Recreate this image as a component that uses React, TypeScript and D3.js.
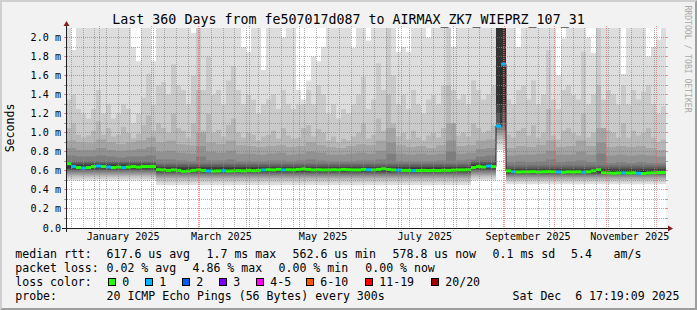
import React from 'react';
import * as d3 from 'd3';

// ---------- time span ----------
const START = Date.UTC(2024, 11, 11, 17, 19, 9);
const END = Date.UTC(2025, 11, 6, 17, 19, 9);
const Y_MAX = 2.1; // ms

// ---------- data (ms), 120 buckets of 3 days ----------
const median = [
  0.675, 0.645, 0.635, 0.63, 0.635, 0.645, 0.65, 0.645, 0.64, 0.635,
  0.64, 0.635, 0.64, 0.645, 0.64, 0.645, 0.645, 0.645, 0.612, 0.61,
  0.605, 0.61, 0.605, 0.595, 0.598, 0.605, 0.61, 0.605, 0.6, 0.598,
  0.6, 0.602, 0.598, 0.6, 0.602, 0.6, 0.605, 0.602, 0.605, 0.61,
  0.612, 0.61, 0.615, 0.61, 0.612, 0.61, 0.615, 0.62, 0.615, 0.61,
  0.612, 0.61, 0.61, 0.612, 0.61, 0.615, 0.612, 0.61, 0.61, 0.615,
  0.612, 0.61, 0.615, 0.622, 0.615, 0.61, 0.608, 0.605, 0.605, 0.603,
  0.603, 0.605, 0.603, 0.605, 0.603, 0.606, 0.605, 0.608, 0.61, 0.61,
  0.612, 0.635, 0.645, 0.64, 0.65, 0.645, 1.07, 1.72, 0.6, 0.59,
  0.588, 0.59, 0.59, 0.592, 0.588, 0.59, 0.592, 0.59, 0.588, 0.585,
  0.59, 0.588, 0.59, 0.585, 0.59, 0.6, 0.612, 0.58, 0.578, 0.575,
  0.578, 0.58, 0.578, 0.58, 0.575, 0.572, 0.578, 0.58, 0.582, 0.583,
];

const lossCount = [
  0, 1, 0, 1, 0, 0, 1, 0, 1, 0, 0, 1, 0, 0, 0, 0, 0, 0, 0, 0,
  0, 0, 0, 0, 0, 0, 0, 0, 1, 0, 0, 1, 0, 0, 0, 0, 0, 0, 0, 1,
  0, 0, 0, 1, 0, 0, 0, 0, 0, 0, 0, 0, 0, 0, 0, 0, 0, 0, 0, 0,
  1, 0, 0, 0, 0, 0, 1, 0, 0, 1, 0, 0, 0, 0, 0, 0, 0, 0, 0, 0,
  0, 0, 0, 0, 1, 0, 1, 1, 0, 1, 0, 0, 0, 0, 0, 0, 0, 0, 1, 0,
  0, 0, 0, 1, 0, 0, 0, 0, 0, 0, 0, 1, 0, 0, 1, 0, 0, 0, 0, 0,
];

// highest ping (values above the chart top are off scale)
const ping20 = [
  2.5, 1.87, 2.5, 2.5, 2.5, 2.5, 2.5, 2.5, 2.5, 2.5,
  2.5, 2.5, 2.5, 1.9, 1.75, 2.5, 2.5, 1.75, 2.5, 2.5,
  2.5, 2.5, 2.5, 2.5, 2.5, 2.05, 2.5, 2.5, 2.5, 2.5,
  2.5, 2.5, 2.5, 2.5, 2.5, 1.9, 1.85, 2.5, 2.5, 1.66,
  2.5, 2.5, 2.5, 2.0, 2.5, 2.5, 1.45, 1.35, 1.55, 1.8,
  1.75, 1.9, 2.5, 2.5, 2.5, 2.5, 2.5, 1.89, 2.5, 2.5,
  1.97, 2.5, 2.5, 2.5, 2.5, 2.5, 1.85, 1.9, 1.85, 2.5,
  2.5, 2.5, 2.0, 2.5, 2.5, 2.5, 2.5, 1.9, 2.5, 2.5,
  2.5, 2.5, 2.5, 2.5, 2.5, 2.5, 2.5, 2.5, 2.5, 2.5,
  1.9, 2.5, 2.5, 2.5, 2.5, 2.5, 2.5, 2.5, 1.6, 1.99,
  2.5, 2.5, 2.5, 2.5, 2.0, 1.84, 2.5, 2.5, 2.5, 2.5,
  2.5, 1.62, 2.5, 2.5, 2.5, 2.5, 1.8, 1.9, 1.98, 2.5,
];

const ping19 = [
  1.35, 1.4, 1.25, 1.2, 1.15, 1.25, 1.45, 1.2, 1.3, 1.15,
  1.2, 1.3, 1.25, 1.1, 1.2, 1.37, 1.62, 1.3, 1.5, 1.53,
  1.4, 1.72, 1.5, 1.45, 1.3, 1.6, 2.5, 1.45, 1.8, 1.4,
  1.45, 1.3, 1.55, 1.7, 1.45, 1.3, 1.4, 1.35, 1.2, 1.3,
  1.35, 1.4, 1.25, 1.45, 1.3, 1.25, 1.3, 1.3, 1.45, 1.3,
  1.5, 1.4, 1.2, 1.3, 1.15, 1.25, 1.2, 1.3, 1.4, 1.59,
  1.25, 1.35, 1.73, 1.45, 2.5, 1.6, 1.3, 1.4, 1.25, 1.45,
  1.3, 1.2, 1.35, 1.4, 1.3, 1.5, 2.5, 1.45, 1.35, 1.4,
  1.3, 1.55, 1.45, 1.35, 1.4, 1.5, 2.5, 2.5, 1.35, 1.3,
  1.45, 1.5, 1.35, 1.55, 1.3, 1.4, 1.87, 1.35, 1.25, 1.45,
  1.5, 1.4, 1.35, 1.85, 1.3, 1.4, 2.5, 1.35, 1.45, 1.4,
  1.3, 1.5, 1.3, 1.45, 1.35, 1.43, 1.5, 1.3, 1.2, 1.28,
];

const ping18 = [
  1.05, 1.1, 0.98, 0.95, 0.97, 1.02, 1.12, 0.98, 1.05, 0.96,
  0.98, 1.06, 1.0, 0.94, 0.99, 1.08, 1.18, 1.02, 1.1, 1.05,
  1.0, 1.2, 1.05, 1.02, 0.95, 1.1, 1.45, 1.02, 1.2, 1.0,
  1.03, 0.96, 1.08, 1.15, 1.0, 0.95, 1.0, 0.98, 0.92, 0.96,
  0.98, 1.02, 0.94, 1.05, 0.97, 0.94, 0.95, 1.05, 1.08, 0.96,
  1.04, 1.0, 0.92, 0.96, 0.9, 0.94, 0.92, 0.96, 1.0, 1.1,
  0.94, 0.98, 1.15, 1.02, 1.4, 1.1, 0.96, 1.0, 0.93, 1.02,
  0.95, 0.92, 0.97, 1.0, 0.95, 1.05, 1.5, 1.02, 0.97, 1.0,
  0.96, 1.1, 1.05, 1.0, 1.02, 1.08, 2.5, 2.5, 0.98, 0.95,
  1.02, 1.05, 0.97, 1.08, 0.95, 1.0, 1.25, 0.97, 0.93, 1.02,
  1.05, 1.0, 0.97, 1.2, 0.95, 1.0, 1.5, 0.96, 1.02, 1.0,
  0.95, 1.1, 0.95, 1.02, 0.97, 1.0, 1.05, 0.95, 0.9, 0.93,
];

// 60 buckets of 6 days
const ping17 = [
  0.92, 0.9, 0.89, 0.93, 0.9, 0.88, 0.9, 0.92, 0.95, 0.9,
  0.92, 0.88, 0.87, 1.0, 0.9, 0.88, 0.92, 0.87, 0.86, 0.85,
  0.86, 0.87, 0.85, 0.86, 0.9, 0.87, 0.85, 0.84, 0.86, 0.88,
  0.87, 0.92, 1.05, 0.87, 0.85, 0.86, 0.84, 0.87, 1.1, 0.86,
  0.87, 0.92, 0.93, 2.5, 0.84, 0.86, 0.85, 0.87, 0.92, 0.85,
  0.86, 0.92, 0.86, 1.05, 0.85, 0.86, 0.85, 0.86, 0.84, 0.82,
];
const ping16 = [
  0.84, 0.82, 0.82, 0.84, 0.82, 0.81, 0.82, 0.83, 0.85, 0.8,
  0.81, 0.79, 0.78, 0.86, 0.8, 0.79, 0.81, 0.78, 0.78, 0.77,
  0.78, 0.79, 0.77, 0.78, 0.8, 0.79, 0.77, 0.77, 0.78, 0.79,
  0.78, 0.81, 0.9, 0.78, 0.77, 0.78, 0.77, 0.78, 0.92, 0.78,
  0.79, 0.83, 0.84, 2.5, 0.76, 0.77, 0.77, 0.78, 0.81, 0.77,
  0.77, 0.8, 0.77, 0.9, 0.76, 0.77, 0.76, 0.77, 0.76, 0.75,
];
const ping15 = [
  0.76, 0.75, 0.75, 0.76, 0.75, 0.74, 0.75, 0.75, 0.76, 0.72,
  0.72, 0.71, 0.7, 0.75, 0.71, 0.71, 0.72, 0.7, 0.7, 0.7,
  0.71, 0.71, 0.7, 0.71, 0.72, 0.71, 0.7, 0.7, 0.7, 0.71,
  0.71, 0.72, 0.78, 0.7, 0.7, 0.7, 0.7, 0.71, 0.8, 0.71,
  0.72, 0.75, 0.76, 2.5, 0.69, 0.7, 0.69, 0.7, 0.72, 0.69,
  0.7, 0.71, 0.69, 0.78, 0.68, 0.69, 0.68, 0.69, 0.68, 0.68,
];

// ping ranks 1..14 per period (period start given as 3-day bucket index)
const periodStartBucket = [0, 18, 81, 86, 88];
const periodPings = [
  [0.5, 0.52, 0.54, 0.555, 0.57, 0.585, 0.6, 0.61, 0.62, 0.63, 0.655, 0.67, 0.685, 0.7],
  [0.45, 0.48, 0.505, 0.525, 0.54, 0.555, 0.57, 0.58, 0.59, 0.6, 0.625, 0.64, 0.655, 0.675],
  [0.5, 0.52, 0.54, 0.555, 0.57, 0.585, 0.6, 0.61, 0.62, 0.63, 0.66, 0.675, 0.69, 0.71],
  [0.82, 0.88, 0.93, 0.97, 1.0, 1.03, 1.06, 1.1, 1.2, 1.3, 2.5, 2.5, 2.5, 2.5],
  [0.46, 0.485, 0.505, 0.52, 0.535, 0.55, 0.56, 0.57, 0.578, 0.585, 0.605, 0.62, 0.635, 0.655],
];

// ---------- axes / labels ----------
const yMajorTicks = [0, 0.2, 0.4, 0.6, 0.8, 1.0, 1.2, 1.4, 1.6, 1.8, 2.0];
const yMajorLabels = ['0.0', '0.2 m', '0.4 m', '0.6 m', '0.8 m', '1.0 m', '1.2 m', '1.4 m', '1.6 m', '1.8 m', '2.0 m'];
const yMinorTicks = [0.1, 0.3, 0.5, 0.7, 0.9, 1.1, 1.3, 1.5, 1.7, 1.9];
const monthLabels = ['January 2025', 'March 2025', 'May 2025', 'July 2025', 'September 2025', 'November 2025'];
const monthLabelAnchors = [[2025, 0, 15], [2025, 2, 15], [2025, 4, 15], [2025, 6, 15], [2025, 8, 15], [2025, 10, 15]];

const title = 'Last 360 Days from fe507017d087 to AIRMAX_ZK7_WIEPRZ_107_31';
const yTitle = 'Seconds';
const watermark = 'RRDTOOL / TOBI OETIKER';
const rttLegend = ['median rtt:', '617.6 us avg', '1.7 ms max', '562.6 us min', '578.8 us now', '0.1 ms sd', '5.4', 'am/s'];
const lossLegend = ['packet loss:', '0.02 % avg', '4.86 % max', '0.00 % min', '0.00 % now'];
const lossColorTitle = 'loss color:';
const lossBinLabels = ['0', '1', '2', '3', '4-5', '6-10', '11-19', '20/20'];
const lossBinMax = [0, 1, 2, 3, 5, 10, 19, 20];
const lossBinColors = ['#26ff00', '#00b8ff', '#0059ff', '#7e00ff', '#ff00ff', '#ff5500', '#ff0000', '#a10000'];
const probeLegend = ['probe:', '20 ICMP Echo Pings (56 Bytes) every 300s'];
const stamp = 'Sat Dec  6 17:19:09 2025';

// ---------- layout ----------
const W = 697, H = 310;
const X0 = 66, X1 = 666, Y0 = 228, Y1 = 28;
const FONT = 'DejaVu Sans Mono';
const rttX = [15.3, 106.6, 206.6, 292.6, 392.6, 492.6, 571, 613.6];
const lossX = [15.3, 106.6, 192.6, 278.6, 365.3];
const boxX = [108.5, 145.5, 182.5, 219.5, 256.5, 306.5, 365.5, 431.5];

const N = median.length;

function lossColor(n: number) {
  for (let i = 0; i < lossBinMax.length; i++) if (n <= lossBinMax[i]) return lossBinColors[i];
  return lossBinColors[lossBinColors.length - 1];
}

export default function App() {
  const x = d3.scaleUtc().domain([new Date(START), new Date(END)]).range([X0, X1]);
  const y = d3.scaleLinear().domain([0, Y_MAX]).range([Y0, Y1]).clamp(true);
  const bucketTime = (c: number) => new Date(START + (c * (END - START)) / N);

  // sorted ping ranks per bucket
  const pings = d3.range(N).map((c) => {
    const p = d3.bisectRight(periodStartBucket, c) - 1;
    const k = Math.floor(c / 2);
    const v = [...periodPings[p], ping15[k], ping16[k], ping17[k], ping18[c], ping19[c], ping20[c]];
    for (let i = 1; i < v.length; i++) v[i] = Math.max(v[i], v[i - 1]);
    return v;
  });

  const area = d3
    .area<{ t: Date; lo: number; hi: number }>()
    .x((d) => x(d.t))
    .y0((d) => y(d.lo))
    .y1((d) => y(d.hi))
    .curve(d3.curveStepAfter);

  const layers = d3.range(10).map((k) => {
    const pts = d3.range(N).map((c) => ({ t: bucketTime(c), lo: pings[c][k], hi: pings[c][19 - k] }));
    pts.push({ t: new Date(END), lo: pts[N - 1].lo, hi: pts[N - 1].hi });
    const g = Math.floor((190 / 10) * (10 - (k + 1))) + 50;
    const hex = g.toString(16).padStart(2, '0');
    return { d: area(pts) || '', color: '#' + hex + hex + hex };
  });

  const medLine = d3
    .line<{ t: Date; v: number }>()
    .x((d) => x(d.t))
    .y((d) => y(d.v))
    .curve(d3.curveStepAfter);
  const medPts = median.map((v, c) => ({ t: bucketTime(c), v }));
  medPts.push({ t: new Date(END), v: median[N - 1] });

  const px = (v: number) => Math.floor(v) + 0.5;
  const months = d3.utcMonth.range(new Date(START), new Date(END));
  const monthSet = new Set(months.map((m) => m.getTime()));
  const weeks = d3.utcSunday.range(new Date(START), new Date(END)).filter((w) => !monthSet.has(w.getTime()));

  const gridMinor = 'rgba(143,143,143,0.75)';
  const gridMajor = 'rgba(222,79,79,0.6)';
  const txt = { fontFamily: FONT, whiteSpace: 'pre' as const };

  return (
    <svg width={W} height={H} style={{ position: 'absolute', left: 0, top: 0 }} xmlns="http://www.w3.org/2000/svg">
      <defs>
        <clipPath id="plot">
          <rect x={X0} y={Y1} width={X1 - X0} height={Y0 - Y1} />
        </clipPath>
      </defs>
      <rect x={0} y={0} width={W} height={H} fill="#f2f2f2" />
      <polygon points={`0,${H} 2,${H - 2} 2,2 ${W - 2},2 ${W},0 0,0`} fill="#cfcfcf" />
      <polygon points={`2,${H - 2} ${W - 2},${H - 2} ${W - 2},2 ${W},0 ${W},${H} 0,${H}`} fill="#9e9e9e" />
      <rect x={X0} y={Y1} width={X1 - X0} height={Y0 - Y1} fill="#ffffff" />

      <g clipPath="url(#plot)">
        {layers.map((l, i) => (
          <path key={i} d={l.d} fill={l.color} />
        ))}
        <path d={medLine(medPts) || ''} fill="none" stroke="#202020" strokeWidth={1} />
        {median.map((v, c) => {
          const xa = x(bucketTime(c));
          const xb = x(bucketTime(c + 1));
          return <rect key={c} x={xa} y={y(v) - 1.5} width={xb - xa} height={3} fill={lossColor(lossCount[c])} />;
        })}
      </g>

      {/* grid */}
      <g strokeWidth={1} shapeRendering="crispEdges">
        {yMinorTicks.map((v) => (
          <g key={'hm' + v}>
            <line x1={X0 - 1} x2={X1 + 1} y1={px(y(v))} y2={px(y(v))} stroke={gridMinor} strokeDasharray="1,1" />
            <line x1={X0 - 2} x2={X0} y1={px(y(v))} y2={px(y(v))} stroke={gridMinor} />
            <line x1={X1} x2={X1 + 2} y1={px(y(v))} y2={px(y(v))} stroke={gridMinor} />
          </g>
        ))}
        {yMajorTicks.slice(1).map((v) => (
          <g key={'hM' + v}>
            <line x1={X0 - 1} x2={X1 + 1} y1={px(y(v))} y2={px(y(v))} stroke={gridMajor} strokeDasharray="1,1" />
            <line x1={X0 - 2} x2={X0} y1={px(y(v))} y2={px(y(v))} stroke={gridMajor} />
            <line x1={X1} x2={X1 + 2} y1={px(y(v))} y2={px(y(v))} stroke={gridMajor} />
          </g>
        ))}
        {weeks.map((w) => (
          <line key={'vm' + w.getTime()} x1={px(x(w))} x2={px(x(w))} y1={Y0 + 1} y2={Y1 - 1} stroke={gridMinor} strokeDasharray="1,1" />
        ))}
        {months.map((m) => (
          <line key={'vM' + m.getTime()} x1={px(x(m))} x2={px(x(m))} y1={Y0 + 3} y2={Y1 - 2} stroke={gridMajor} strokeDasharray="1,1" />
        ))}
      </g>

      {/* axes */}
      <g shapeRendering="crispEdges">
        <line x1={X0 - 4} x2={X1 + 4} y1={Y0 + 0.5} y2={Y0 + 0.5} stroke="#1f1f1f" />
        <line x1={X0 + 0.5} x2={X0 + 0.5} y1={Y0 + 4} y2={Y1 - 4} stroke="#1f1f1f" />
      </g>
      <polygon points={`${X1 + 2},${Y0 - 2.5} ${X1 + 2},${Y0 + 3.5} ${X1 + 7},${Y0 + 0.5}`} fill="#801f1f" />
      <polygon points={`${X0 - 2.5},${Y1 - 2} ${X0 + 3.5},${Y1 - 2} ${X0 + 0.5},${Y1 - 7}`} fill="#801f1f" />

      {/* axis labels */}
      {yMajorTicks.map((v, i) => (
        <text key={'yl' + i} x={61} y={px(y(v)) + 3.7} fontSize={10.1} textAnchor="end" fill="#000" style={txt}>
          {yMajorLabels[i]}
        </text>
      ))}
      {monthLabels.map((s, i) => {
        const a = monthLabelAnchors[i];
        return (
          <text key={'ml' + i} x={x(new Date(Date.UTC(a[0], a[1], a[2])))} y={240} fontSize={10.1} textAnchor="middle" fill="#000" style={txt}>
            {s}
          </text>
        );
      })}

      <text x={348.5} y={24} fontSize={13.3} textAnchor="middle" fill="#000" style={txt}>
        {title}
      </text>
      <text transform={`translate(13.5,${(Y0 + Y1) / 2}) rotate(-90)`} fontSize={11.55} textAnchor="middle" fill="#000" style={txt}>
        {yTitle}
      </text>
      <text transform="translate(684.5,59) rotate(90)" fontSize={8.1} textAnchor="middle" fill="#a9a9a9" style={txt}>
        {watermark}
      </text>

      {/* legend */}
      <g fontSize={11.55} fill="#000" style={txt}>
        {rttLegend.map((s, i) => (
          <text key={'r' + i} x={rttX[i]} y={258} style={txt}>
            {s}
          </text>
        ))}
        {lossLegend.map((s, i) => (
          <text key={'l' + i} x={lossX[i]} y={272} style={txt}>
            {s}
          </text>
        ))}
        <text x={15.3} y={286} style={txt}>
          {lossColorTitle}
        </text>
        {lossBinLabels.map((s, i) => (
          <g key={'b' + i}>
            <rect x={boxX[i]} y={278.5} width={7} height={7} fill={lossBinColors[i]} stroke="#000" strokeWidth={1} />
            <text x={boxX[i] + 13.8} y={286} style={txt}>
              {s}
            </text>
          </g>
        ))}
        <text x={15.3} y={299.5} style={txt}>
          {probeLegend[0]}
        </text>
        <text x={106.6} y={299.5} style={txt}>
          {probeLegend[1]}
        </text>
        <text x={512.6} y={299.5} style={txt}>
          {stamp}
        </text>
      </g>
    </svg>
  );
}
